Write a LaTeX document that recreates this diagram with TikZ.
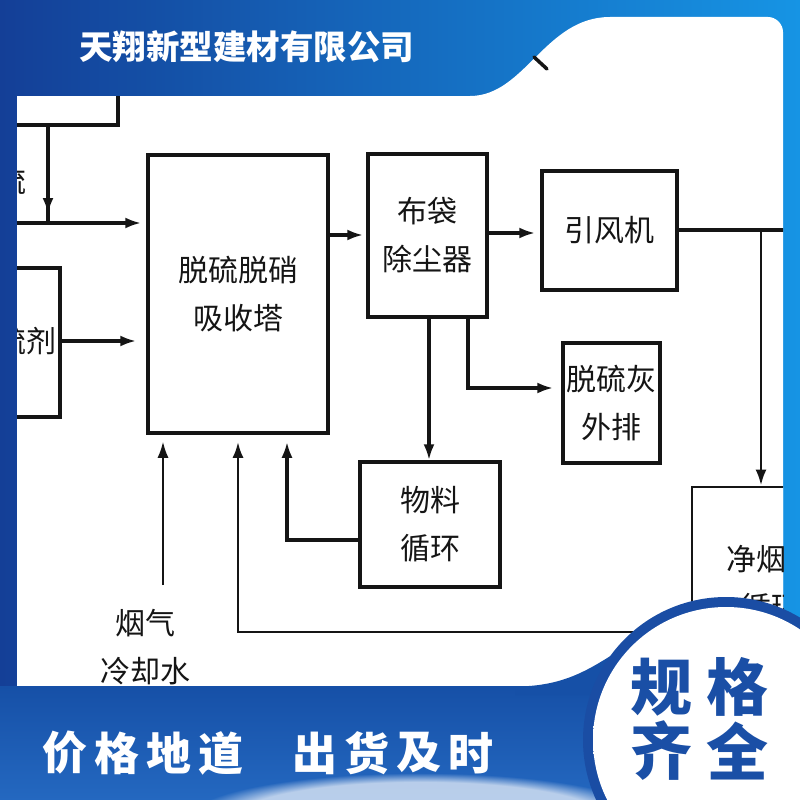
\documentclass[tikz,border=0pt]{standalone}
\usepackage{fontspec}
\newfontfamily\cjk{Noto Sans CJK SC}
\usetikzlibrary{arrows.meta,calc,fadings}
\definecolor{bgL}{HTML}{143F97}
\definecolor{bgR}{HTML}{1694E4}
\definecolor{bandT}{HTML}{1650A7}
\definecolor{bandB}{HTML}{2468C0}
\definecolor{ring}{HTML}{1A4DA4}
\definecolor{badgetxt}{HTML}{1A4FA6}
\definecolor{badgeedge}{HTML}{BCD0EA}
\definecolor{ink}{HTML}{151515}
\pgfdeclareradialshading{badgeshade}{\pgfpoint{0bp}{0bp}}{color(0bp)=(white); color(28bp)=(white); color(50bp)=(badgeedge)}
\newcommand\flowfont{\cjk\fontsize{30}{48}\selectfont}
\tikzset{
  box/.style={draw=ink, line width=3.5pt, fill=white, inner sep=0pt, align=center, font=\flowfont, text=ink},
  lbl/.style={inner sep=0pt, align=center, font=\flowfont, text=ink},
  conn/.style={line width=3.5pt, draw=ink},
  thinconn/.style={line width=1.8pt, draw=ink},
  tip/.style={-{Latex[length=16pt,width=11pt]}},
  whitetxt/.style={inner sep=0pt, text=white, font=\cjk\bfseries\fontsize{45}{45}\selectfont},
  badgech/.style={inner sep=0pt, text=badgetxt, font=\cjk\bfseries\fontsize{62}{62}\selectfont},
}
\begin{document}
\begin{tikzpicture}[x=1pt,y=-1pt]
\useasboundingbox (0,0) rectangle (800,800);
\clip (0,0) rectangle (800,800);
% background
\shade[left color=bgL, right color=bgR] (0,0) rectangle (800,800);
% white panel
\fill[white] (17,96) -- (470,96) .. controls (525,96) and (545,17) .. (610,17) -- (768,17) .. controls (776,17) and (783,24) .. (783,32) -- (783,686) -- (17,686) -- cycle;
% flowchart
\begin{scope}
\clip (17,96) -- (470,96) .. controls (525,96) and (545,17) .. (610,17) -- (768,17) .. controls (776,17) and (783,24) .. (783,32) -- (783,686) -- (17,686) -- cycle;
\node[box, minimum width=158pt, minimum height=90pt] (TL) at (39,80) {};
\node[box, minimum width=140pt, minimum height=149pt] (AG) at (-10,342.5) {};
\node[lbl, anchor=east] (AGt) at (57,341) {脱硫剂};
\node[lbl] (flowch) at (12,181) {流};
\node[box, minimum width=180pt, minimum height=278pt] (tower) at (238,294) {脱硫脱硝\\吸收塔};
\node[box, minimum width=119pt, minimum height=163pt] (bag) at (427.5,235.5) {布袋\\除尘器};
\node[box, minimum width=135pt, minimum height=119pt] (fan) at (609.5,230.5) {引风机};
\node[box, minimum width=97pt, minimum height=120pt] (ash) at (611.5,403) {脱硫灰\\外排};
\node[box, minimum width=140pt, minimum height=125pt] (mat) at (430,524.5) {物料\\循环};
\node[box, line width=2.8pt, minimum width=158pt, minimum height=193pt] (clean) at (771,583.5) {净烟气\\循环};
\node[lbl] (gas) at (145,647) {烟气\\冷却水};
% connectors
\coordinate (J1) at (48,223);
\coordinate (L1) at (-20,223);
\draw[conn] (TL.south -| J1) -- (J1);
\draw[conn,tip] (TL.south -| J1) -- ($(J1)+(0,-9)$);
\draw[conn,tip,shorten >=5pt] (L1) -- (L1 -| tower.west);
\draw[conn,tip,shorten >=10pt] (AG.east |- AGt) -- (AGt -| tower.west);
\coordinate (A1) at (0,235);
\draw[conn,tip,shorten >=3pt] (tower.east |- A1) -- (bag.west |- A1);
\coordinate (A2) at (0,233);
\draw[conn,tip,shorten >=5pt] (bag.east |- A2) -- (fan.west |- A2);
\coordinate (R1) at (820,230);
\draw[conn] (fan.east |- R1) -- (R1);
\coordinate (J2) at (761,230);
\draw[line width=2.8pt, draw=ink, tip] (J2) -- (J2 |- clean.north);
\coordinate (B1) at (429,0);
\draw[conn,tip] (bag.south -| B1) -- (mat.north -| B1);
\coordinate (J3) at (468,388);
\draw[conn,tip,shorten >=8pt] (bag.south -| J3) -- (J3) -- (J3 -| ash.west);
\coordinate (J4) at (287,540);
\draw[conn,tip,shorten >=7pt] (mat.west |- J4) -- (J4) -- (J4 |- tower.south);
\coordinate (J5) at (238,632);
\draw[line width=2.8pt, draw=ink,tip,shorten >=7pt] (clean.west |- J5) -- (J5) -- (J5 |- tower.south);
\coordinate (G1) at (163,585);
\draw[thinconn,tip,shorten >=7pt] (G1) -- (G1 |- tower.south);
\end{scope}
% artifact mark on the banner edge
\draw[line width=3.5pt, draw=ink, line cap=round] (534,57) -- (547,69);
% title
\node[inner sep=0pt, anchor=west, text=white, font=\cjk\bfseries\fontsize{33.5}{34}\selectfont] (title) at (79,47) {天翔新型建材有限公司};
% bottom band
\shade[top color=bandT, bottom color=bandB] (0,686) rectangle (800,800);
\fill[white!85!bandB, path fading=circle with fuzzy edge 20 percent, opacity=0.8] (420,818) ellipse (230pt and 45pt);
\foreach \c [count=\i] in {价,格,地,道} {
  \node[whitetxt] (bl\i) at ({64.5+52*(\i-1)},753) {\c};
}
\foreach \c [count=\i] in {出,货,及,时} {
  \node[whitetxt] (br\i) at ({314.5+52*(\i-1)},753) {\c};
}
% badge
\fill[bandT] (515,686.5) .. controls (560,686.5) and (585,672) .. (612,655) -- (640,695) -- (515,695) -- cycle;
\fill[ring] (726,740) circle (143pt);
\shade[shading=badgeshade] (726,740) circle (133pt);
\node[badgech] (b1) at (661,687) {规};
\node[badgech] (b2) at (737.5,687) {格};
\node[badgech] (b3) at (661,751) {齐};
\node[badgech] (b4) at (737.5,751) {全};
\end{tikzpicture}
\end{document}
